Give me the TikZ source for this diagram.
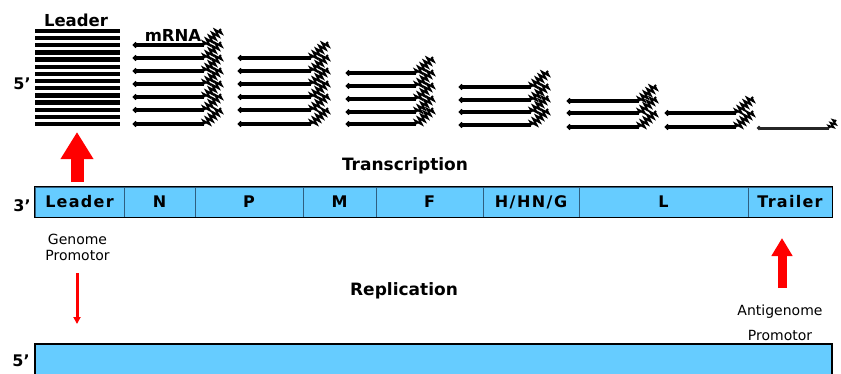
\documentclass[tikz,border=0pt]{standalone}
\usepackage{fontspec}
\setmainfont{DejaVu Sans}
\newfontfamily\boxfont[LetterSpace=8]{DejaVu Sans}
\usetikzlibrary{arrows.meta,decorations.pathmorphing}
\definecolor{genefill}{HTML}{66CCFF}
\definecolor{divider}{HTML}{2F5F80}
\definecolor{arrowred}{HTML}{FF0000}
\tikzset{
  seg/.style={draw=divider, line width=0.8pt, fill=genefill, minimum height=30pt, inner sep=0pt,
    font=\boxfont\bfseries\fontsize{16}{16}\selectfont, text=black},
  lab/.style={inner sep=0pt, font=\bfseries\fontsize{16.5}{18}\selectfont},
  biglab/.style={inner sep=0pt, font=\bfseries\fontsize{17}{19}\selectfont},
  primelab/.style={inner sep=0pt, font=\bfseries\fontsize{16}{18}\selectfont},
  promo/.style={inner sep=0pt, font=\fontsize{14}{16}\selectfont},
  leaderline/.style={line width=4.3pt},
  mrna/.style={line width=3.8pt, -{Circle[length=5pt]}},
  mrnathin/.style={line width=3pt, draw=black!85, -{Circle[length=4pt]}},
  polyA/.pic={\draw[line width=2pt, line join=miter, decorate,
      decoration={zigzag, segment length=4.2pt, amplitude=3.4pt}] (0,0) -- (16,-16);},
  polyAsmall/.pic={\draw[line width=1.8pt, decorate,
      decoration={zigzag, segment length=3.6pt, amplitude=2.5pt}] (0,0) -- (6,-8);},
  bigarrow/.style={draw=arrowred, line width=13pt, -{Triangle[length=27pt, width=31pt]}, arrowred},
  midarrow/.style={draw=arrowred, line width=9pt, -{Triangle[length=18pt, width=20pt]}, arrowred},
  thinarrow/.style={draw=arrowred, line width=3pt, -{Triangle[length=7pt, width=7pt]}, arrowred},
}
\begin{document}
\begin{tikzpicture}[x=1pt,y=-1pt]
\useasboundingbox (0,0) rectangle (841,373);
\clip (0,0) rectangle (841,373);

% leader stack
\foreach \i in {0,...,13}{\draw[leaderline] (35,{31+\i*7.15}) -- (120,{31+\i*7.15});}
\node[lab, anchor=base] (leadertitle) at (76,26) {Leader};
\node[lab, anchor=base] (mrnatitle) at (173,41) {mRNA};
\node[primelab, anchor=base] (fivetop) at (22,89) {5'};

% mRNA groups
\foreach \y in {45,58,71,84,97,110,124}{\draw[mrna] (204,\y) -- (133,\y); \pic at (205,\y) {polyA};}
\foreach \y in {58,71,84,97,110,124}{\draw[mrna] (311,\y) -- (238,\y); \pic at (312,\y) {polyA};}
\foreach \y in {73,86,99,112,124}{\draw[mrna] (416,\y) -- (346,\y); \pic at (417,\y) {polyA};}
\foreach \y in {87,100,112,125}{\draw[mrna] (531,\y) -- (459,\y); \pic at (532,\y) {polyA};}
\foreach \y in {101,113,127}{\draw[mrna] (639,\y) -- (567,\y); \pic at (640,\y) {polyA};}
\foreach \y in {113,127}{\draw[mrna] (736,\y) -- (665,\y); \pic at (737,\y) {polyA};}
\draw[mrnathin] (829,128) -- (757,128);
\pic at (830,128) {polyAsmall};

% big red arrow
\coordinate (bigtail) at (77,182);
\coordinate (bigtip) at (77,132);
\draw[bigarrow] (bigtail) -- (bigtip);

\node[biglab, anchor=base] (transcription) at (405,170) {Transcription};

% genome bar
\node[seg, minimum width=89pt]  (leaderseg)  at (79.5,202) {Leader};
\node[seg, minimum width=71pt]  (nseg)       at (159.5,202) {N};
\node[seg, minimum width=108pt] (pseg)       at (249,202) {P};
\node[seg, minimum width=73pt]  (mseg)       at (339.5,202) {M};
\node[seg, minimum width=107pt] (fseg)       at (429.5,202) {F};
\node[seg, minimum width=96pt]  (hseg)       at (531,202) {H\kern1.5pt/\kern1.5pt HN\kern1.5pt/\kern1.5pt G};
\node[seg, minimum width=169pt] (lseg)       at (663.5,202) {L};
\node[seg, minimum width=84pt]  (trailerseg) at (790,202) {Trailer};
\draw[line width=1.2pt] (leaderseg.north west) rectangle (trailerseg.south east);
\node[primelab, anchor=base] (three) at (22,211) {3'};

% genome promotor
\node[promo, anchor=base] (gp1) at (77.5,244) {Genome};
\node[promo, anchor=base] (gp2) at (77.5,260) {Promotor};
\coordinate (thintail) at (77,273);
\coordinate (thintip) at (77,324);
\draw[thinarrow] (thintail) -- (thintip);

\node[biglab, anchor=base] (replication) at (404,295) {Replication};

% antigenome promotor
\coordinate (midtail) at (782,288);
\coordinate (midtip) at (782,238);
\draw[midarrow] (midtail) -- (midtip);
\node[promo, anchor=base] (ag1) at (780,315) {Antigenome};
\node[promo, anchor=base] (ag2) at (780,340) {Promotor};

% antigenome bar
\node[draw, line width=1.2pt, fill=genefill, minimum width=797pt, minimum height=36pt, inner sep=0pt] (antibar) at (433.5,362) {};
\node[primelab, anchor=base] (fivebottom) at (21,366) {5'};
\end{tikzpicture}
\end{document}
